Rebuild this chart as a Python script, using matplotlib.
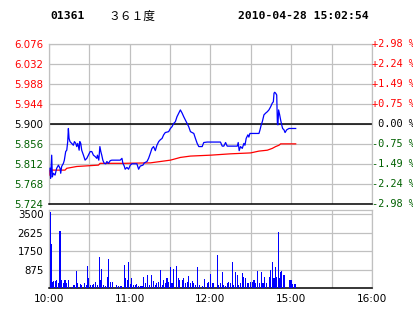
import matplotlib
matplotlib.use("Agg")
import matplotlib.pyplot as plt
import matplotlib.transforms as mtransforms

# --- Data (minutes since 10:00 on a 240-minute axis) ---
price_t = [0.75, 1.2, 2.0, 2.5, 3.2, 4.5, 5.7, 7.0, 8.2, 8.7, 9.4, 10.7, 11.4, 12.4, 13.2, 13.9,
           14.4, 14.9, 15.6, 16.9, 18.1, 18.9, 19.9, 20.6, 21.4, 22.4, 22.9, 23.6, 24.3, 25.6,
           26.8, 28.1, 29.3, 30.6, 31.8, 33.0, 34.3, 35.5, 36.0, 37.0, 37.8, 38.5, 39.2, 40.0,
           41.0, 42.2, 43.0, 44.2, 45.5, 46.7, 52.9, 54.2, 54.9, 55.9, 56.6, 57.9, 59.1, 60.4,
           61.6, 65.3, 66.6, 67.8, 69.8, 70.8, 72.8, 74.0, 75.3, 76.5, 77.7, 79.0, 80.2, 81.5,
           82.7, 84.0, 85.2, 86.4, 88.9, 90.2, 91.4, 92.6, 93.9, 95.1, 96.4, 97.6, 98.9, 100.1,
           101.3, 102.6, 103.8, 105.1, 107.6, 108.8, 110.1, 111.3, 113.8, 115.0, 117.5, 127.4,
           128.7, 129.9, 131.2, 132.4, 139.9, 140.6, 141.3, 142.3, 143.6, 144.8, 145.6, 146.5,
           147.8, 148.5, 149.3, 156.0, 156.7, 157.7, 158.5, 159.7, 161.0, 162.2, 163.4, 164.7,
           165.9, 166.7, 167.2, 167.7, 168.4, 169.2, 169.7, 170.1, 170.6, 171.4, 172.1, 172.9,
           173.6, 174.6, 175.4, 176.6, 178.3, 183.3]
price_v = [5.802, 5.780, 5.831, 5.783, 5.791, 5.787, 5.802, 5.809, 5.802, 5.791, 5.806, 5.813,
           5.820, 5.839, 5.842, 5.861, 5.890, 5.868, 5.861, 5.857, 5.853, 5.861, 5.857, 5.850,
           5.857, 5.842, 5.861, 5.857, 5.842, 5.831, 5.820, 5.824, 5.831, 5.839, 5.839, 5.831,
           5.828, 5.824, 5.831, 5.820, 5.850, 5.839, 5.831, 5.820, 5.813, 5.812, 5.817, 5.813,
           5.819, 5.820, 5.820, 5.824, 5.813, 5.807, 5.800, 5.804, 5.800, 5.809, 5.812, 5.812,
           5.800, 5.807, 5.809, 5.814, 5.817, 5.824, 5.835, 5.846, 5.850, 5.841, 5.853, 5.861,
           5.865, 5.868, 5.876, 5.881, 5.883, 5.890, 5.894, 5.901, 5.905, 5.916, 5.924, 5.931,
           5.924, 5.916, 5.909, 5.901, 5.894, 5.883, 5.879, 5.868, 5.857, 5.850, 5.850, 5.859,
           5.860, 5.860, 5.851, 5.851, 5.859, 5.851, 5.851, 5.859, 5.841, 5.850, 5.846, 5.857,
           5.853, 5.868, 5.876, 5.871, 5.879, 5.879, 5.886, 5.898, 5.905, 5.920, 5.924, 5.927,
           5.931, 5.938, 5.946, 5.949, 5.968, 5.970, 5.968, 5.964, 5.901, 5.898, 5.931, 5.920,
           5.909, 5.898, 5.890, 5.887, 5.881, 5.887, 5.890, 5.890]

avg_t = [0.75, 0.75, 11.9, 13.2, 20.6, 36.7, 38.0, 55.4, 75.3, 82.7, 90.2, 97.6, 105.1, 120.0,
         134.9, 149.8, 156.0, 162.2, 165.9, 168.4, 170.9, 172.1, 183.3]
avg_v = [5.787, 5.798, 5.798, 5.802, 5.806, 5.809, 5.813, 5.813, 5.814, 5.817, 5.820, 5.826,
         5.829, 5.831, 5.834, 5.836, 5.840, 5.842, 5.846, 5.850, 5.853, 5.856, 5.856]

vol_t = [1.0, 1.9, 2.7, 3.4, 4.7, 5.5, 7.0, 8.2, 8.9, 10.7, 11.9, 13.2, 14.4, 16.9, 18.6, 20.1,
         21.1, 23.1, 24.3, 26.1, 27.6, 28.6, 29.3, 30.6, 32.0, 33.0, 34.5, 36.0, 37.5, 38.3,
         39.0, 40.5, 42.0, 43.5, 44.2, 45.5, 46.9, 50.4, 51.7, 52.9, 54.1, 55.9, 56.6, 58.4,
         59.4, 60.4, 61.6, 62.8, 64.1, 65.3, 66.6, 67.8, 69.1, 70.3, 71.5, 73.0, 74.5, 76.5,
         77.7, 79.2, 80.2, 81.5, 83.0, 84.0, 85.2, 86.4, 87.7, 88.9, 90.4, 91.4, 92.4, 94.9,
         95.9, 97.1, 98.9, 100.1, 101.3, 102.6, 103.8, 105.1, 106.3, 107.6, 108.8, 110.5,
         112.0, 113.8, 115.7, 117.5, 118.7, 120.0, 121.2, 122.5, 124.9, 126.2, 127.4, 128.7,
         129.9, 131.1, 132.4, 133.6, 134.9, 136.6, 137.4, 138.6, 139.8, 141.1, 142.3, 143.6,
         144.8, 146.1, 147.3, 148.5, 149.8, 151.0, 152.3, 153.5, 155.2, 156.5, 157.7, 159.0,
         160.2, 161.5, 163.5, 164.7, 166.0, 167.2, 168.0, 169.0, 170.4, 171.2, 172.2, 172.9,
         173.9, 174.6, 178.6, 179.8, 181.1, 182.1, 182.8]
vol_v = [3620, 2100, 310, 345, 360, 390, 240, 2700, 390, 240, 390, 240, 390, 50, 160, 820,
         240, 200, 160, 240, 160, 1050, 470, 160, 160, 200, 310, 160, 1500, 390,
         910, 160, 120, 550, 1390, 310, 310, 160, 110, 110, 110, 1100, 470, 390,
         1260, 200, 500, 160, 160, 190, 110, 110, 110, 520, 240, 630, 160, 630,
         345, 160, 240, 310, 870, 160, 390, 240, 470, 310, 1020, 240, 930, 1055,
         470, 390, 390, 470, 240, 310, 580, 240, 345, 240, 160, 1020,
         160, 110, 440, 240, 310, 680, 265, 265, 1575, 160, 240, 785,
         160, 110, 240, 310, 240, 1260, 160, 785, 630, 160, 240, 710,
         550, 470, 240, 240, 310, 310, 390, 240, 830, 240, 785, 240,
         550, 240, 550, 870, 1260, 470, 1020, 550, 2650, 470, 785, 830,
         630, 630, 390, 390, 200, 160, 200]

price_ticks = [5.724, 5.768, 5.812, 5.856, 5.900, 5.944, 5.988, 6.032, 6.076]
pct_labels = ["-2.98 %", "-2.24 %", "-1.49 %", "-0.75 %", " 0.00 %",
              "+0.75 %", "+1.49 %", "+2.24 %", "+2.98 %"]
vol_ticks = [875, 1750, 2625, 3500]
time_ticks = [0, 60, 120, 180, 240]
time_labels = ["10:00", "11:00", "12:00", "15:00", "16:00"]
prev_close = 5.900

RED = "#ff0000"
GREEN = "#006000"
GRID = "#c0c0c0"

fig = plt.figure(figsize=(4.14, 3.14), dpi=100)
W, H = 414, 314
ax = fig.add_axes([49 / W, 1 - 203.6 / H, 323 / W, 159.3 / H])
axv = fig.add_axes([49 / W, 1 - 288.3 / H, 323 / W, 78.3 / H])


def tick_color(p):
    if p > prev_close + 1e-9:
        return RED
    if p < prev_close - 1e-9:
        return GREEN
    return "black"


# --- price panel ---
ax.set_xlim(0, 240)
ax.set_ylim(5.724, 6.076)
ax.set_xticks(range(0, 241, 30))
ax.set_xticklabels([])
ax.set_yticks(price_ticks)
ax.set_yticklabels(["%.3f" % p for p in price_ticks], fontsize=7.3, family="DejaVu Sans")
for lab, p in zip(ax.get_yticklabels(), price_ticks):
    lab.set_color(tick_color(p))
ax.tick_params(length=0, pad=4)
ax.grid(True, color=GRID, lw=0.9)
ax.set_axisbelow(True)
for s in ["top", "left", "right"]:
    ax.spines[s].set_color(GRID)
    ax.spines[s].set_linewidth(0.9)
ax.spines["bottom"].set_color("black")
ax.spines["bottom"].set_linewidth(1.1)
ax.axhline(prev_close, color="black", lw=1.1, zorder=2)

ax.plot(avg_t, avg_v, color=RED, lw=0.9, zorder=3)
ax.plot(price_t, price_v, color="#0000ff", lw=0.9, zorder=4)

trans = mtransforms.blended_transform_factory(ax.transAxes, ax.transData)
for p, lab in zip(price_ticks, pct_labels):
    ax.text(1.0, p, lab, transform=trans, ha="left", va="center",
            fontsize=7.4, family="DejaVu Sans Mono", color=tick_color(p))

# --- volume panel ---
axv.bar(vol_t, vol_v, width=0.8, color="#0000ff", zorder=3)
axv.set_xlim(0, 240)
axv.set_ylim(0, 3700)
axv.set_xticks(time_ticks)
axv.set_xticklabels(time_labels, fontsize=7.6)
axv.set_xticks(range(0, 241, 30), minor=True)
axv.set_yticks(vol_ticks)
axv.set_yticklabels([str(v) for v in vol_ticks], fontsize=7.3)
axv.tick_params(which="both", length=0, pad=4)
axv.grid(True, which="both", color=GRID, lw=0.9)
axv.set_axisbelow(True)
for s in ["top", "left", "right"]:
    axv.spines[s].set_color(GRID)
    axv.spines[s].set_linewidth(0.9)
axv.spines["bottom"].set_color("black")
axv.spines["bottom"].set_linewidth(1.1)

# --- header ---
fig.text(50 / W, 1 - 16 / H, "01361", fontsize=8.2, family="DejaVu Sans Mono",
         weight="bold", va="center")
fig.text(108 / W, 1 - 16 / H, "３６１度", fontsize=8.5,
         family=["Noto Sans CJK SC", "DejaVu Sans"], va="center")
fig.text(238 / W, 1 - 16 / H, "2010-04-28 15:02:54", fontsize=8.2,
         family="DejaVu Sans Mono", weight="bold", va="center")

fig.savefig("out.png", dpi=100)
